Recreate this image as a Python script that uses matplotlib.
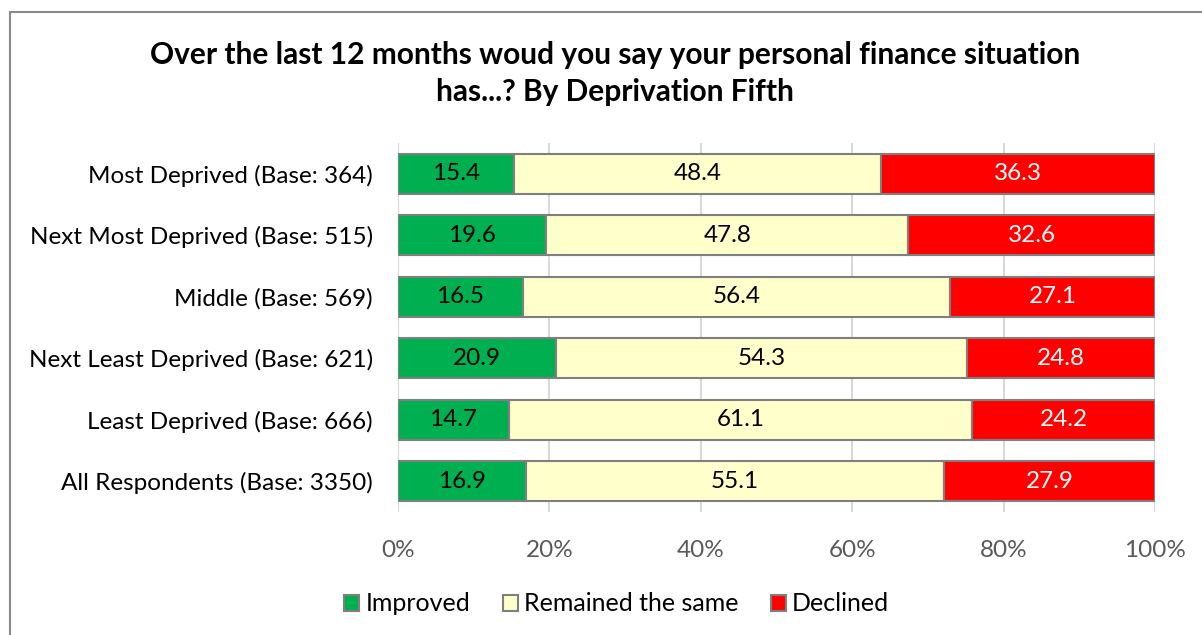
import numpy as np
import matplotlib.pyplot as plt
from matplotlib.patches import Rectangle

plt.rcParams['font.family'] = ['Lato', 'DejaVu Sans']

groups = ["Most Deprived (Base: 364)", "Next Most Deprived (Base: 515)",
          "Middle (Base: 569)", "Next Least Deprived (Base: 621)",
          "Least Deprived (Base: 666)", "All Respondents (Base: 3350)"]
improved = [15.4, 19.6, 16.5, 20.9, 14.7, 16.9]
same = [48.4, 47.8, 56.4, 54.3, 61.1, 55.1]
declined = [36.3, 32.6, 27.1, 24.8, 24.2, 27.9]
series_names = ["Improved", "Remained the same", "Declined"]
colors = ["#00b050", "#ffffcc", "#ff0000"]
text_colors = ["black", "black", "white"]

data = np.array([improved, same, declined])
shares = data / data.sum(axis=0) * 100

fig = plt.figure(figsize=(12.02, 6.35), dpi=100)
ax = fig.add_axes([0.331, 0.194, 0.630, 0.581])
# chart border (only left and top visible in the crop)
fig.patches.append(Rectangle((0.0085, -0.1), 1.5, 1.081, transform=fig.transFigure,
                             fill=False, edgecolor="#898989", linewidth=1.5))

y = np.arange(len(groups))
left = np.zeros(len(groups))
for i in range(3):
    bars = ax.barh(y, shares[i], left=left, height=0.65, color=colors[i],
                   edgecolor="#7f7f7f", linewidth=1.5, label=series_names[i], zorder=3)
    ax.bar_label(bars, labels=[f"{v:.1f}" for v in data[i]], label_type="center",
                 color=text_colors[i], fontsize=17.5)
    left += shares[i]

ax.set_xlim(0, 100)
ax.set_ylim(len(groups) - 0.5, -0.5)
ax.set_yticks(y)
ax.set_yticklabels(groups, fontsize=17.5)
ax.set_xticks(np.arange(0, 101, 20))
ax.set_xticklabels([f"{t}%" for t in range(0, 101, 20)], fontsize=17.5, color="#595959")
ax.tick_params(axis="both", length=0)
ax.tick_params(axis="x", pad=20)
ax.tick_params(axis="y", pad=18)
ax.grid(axis="x", color="#d9d9d9", linewidth=1.5, zorder=0)
for s in ax.spines.values():
    s.set_visible(False)

fig.text(0.512, 0.884, "Over the last 12 months woud you say your personal finance situation\nhas...? By Deprivation Fifth",
         ha="center", va="center", fontsize=21.5, fontweight="bold", linespacing=1.4)

fig.legend(loc="center", bbox_to_anchor=(0.513, 0.049), ncol=3, frameon=False,
           fontsize=18, handlelength=0.6, handleheight=0.6, handletextpad=0.25,
           columnspacing=1.3)

fig.savefig("out.png", dpi=100)
